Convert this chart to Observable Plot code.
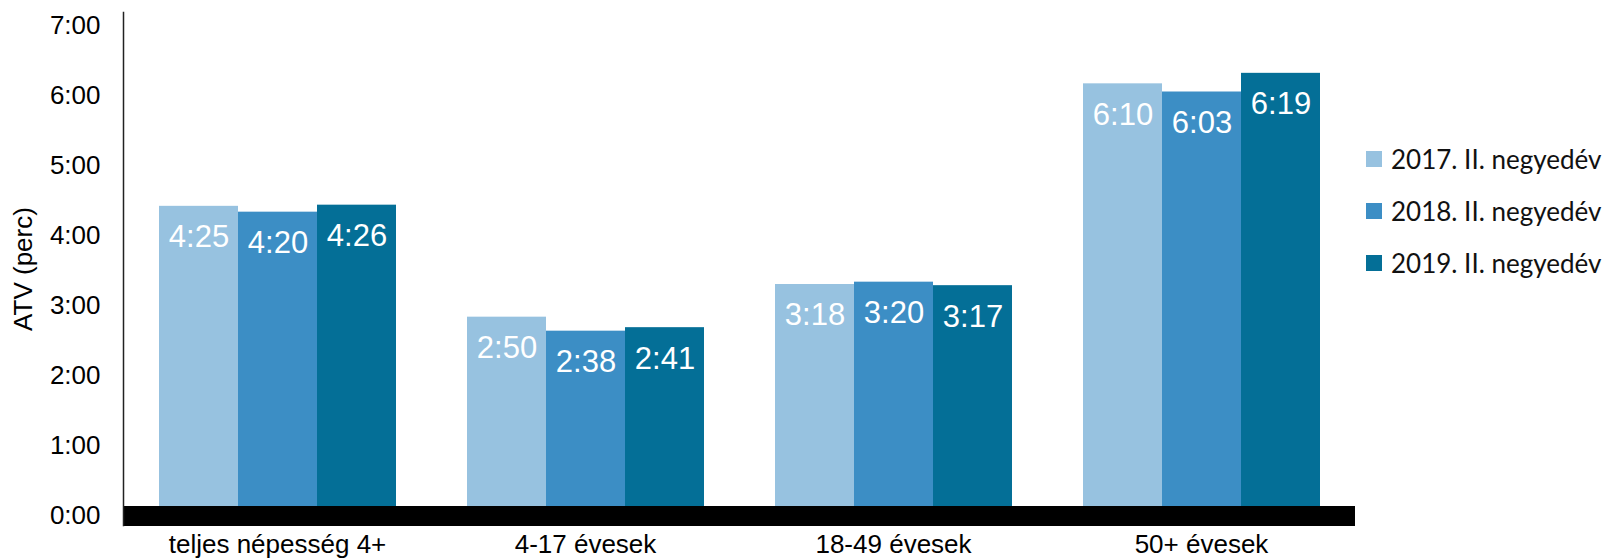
<!DOCTYPE html>
<html>
<head>
<meta charset="utf-8">
<script src="https://cdn.jsdelivr.net/npm/d3@7"></script>
<script src="https://cdn.jsdelivr.net/npm/@observablehq/plot@0.6"></script>
<style>
  body { margin: 0; background: #fff; }
  #chart { position: relative; width: 1610px; height: 560px; }
  #chart > svg, #chart > figure { position: absolute; left: 0; top: 0; margin: 0; }
  #legend { position: absolute; left: 1366px; top: 133px; font-family: Lato, "Open Sans", sans-serif; font-size: 26px; color: #111; }
  #legend .item { display: flex; align-items: center; height: 52px; white-space: nowrap; }
  #legend .sw { width: 16px; height: 16px; margin-right: 9px; flex: none; }
</style>
</head>
<body>
<div id="chart"></div>
<script>
// Average time viewed (minutes per day) by age group, Q2 of 2017–2019
const groups = ["teljes népesség 4+", "4-17 évesek", "18-49 évesek", "50+ évesek"];
const seriesNames = ["2017. II. negyedév", "2018. II. negyedév", "2019. II. negyedév"];
const atv2017 = [265, 170, 198, 370]; // 4:25, 2:50, 3:18, 6:10
const atv2018 = [260, 158, 200, 363]; // 4:20, 2:38, 3:20, 6:03
const atv2019 = [266, 161, 197, 379]; // 4:26, 2:41, 3:17, 6:19
const yTicks = [0, 60, 120, 180, 240, 300, 360, 420];
const seriesColors = ["#97c2e0", "#3c8ec5", "#046f97"];

const seriesValues = [atv2017, atv2018, atv2019];
const rows = groups.flatMap((g, i) =>
  seriesNames.map((s, j) => ({group: g, series: s, minutes: seriesValues[j][i]}))
);

// minutes -> h:mm
const hm = (m) => `${Math.floor(m / 60)}:${String(Math.round(m % 60)).padStart(2, "0")}`;

const chart = Plot.plot({
  width: 1610,
  height: 560,
  marginTop: 12,
  marginBottom: 35,
  marginLeft: 121,
  marginRight: 254,
  style: {fontFamily: "'Liberation Sans', Arial, sans-serif", fontSize: "26px", color: "#000", background: "transparent"},
  fx: {domain: groups, padding: 0, axis: "bottom", label: null, tickSize: 0, tickPadding: 9},
  x: {domain: seriesNames, paddingInner: 0, paddingOuter: 0.43, axis: null},
  y: {
    domain: [0, 420],
    insetTop: 13,
    insetBottom: 10,
    ticks: yTicks,
    tickFormat: hm,
    tickSize: 0,
    tickPadding: 23,
    label: "ATV (perc)",
    labelAnchor: "center",
    labelArrow: "none",
    labelOffset: 110
  },
  color: {domain: seriesNames, range: seriesColors},
  marks: [
    Plot.barY(rows, {fx: "group", x: "series", y: "minutes", fill: "series"}),
    Plot.text(rows, {
      fx: "group", x: "series", y: "minutes",
      text: (d) => hm(d.minutes),
      fill: "white", fontSize: 31, dy: 31
    }),
    Plot.ruleY([0], {stroke: "#000", strokeWidth: 20, shapeRendering: "crispEdges"}),
    Plot.frame({anchor: "left", fx: [groups[0]], stroke: "#222", strokeWidth: 1.5})
  ]
});

const root = document.getElementById("chart");
root.appendChild(chart);

// Legend (vertical swatches) using the plot's own color scale
const color = chart.scale("color");
const legend = d3.select(root).append("div").attr("id", "legend");
const items = legend.selectAll("div.item").data(color.domain).join("div").attr("class", "item");
items.append("div").attr("class", "sw").style("background", (d) => color.apply(d));
items.append("span").text((d) => d);
</script>
</body>
</html>
